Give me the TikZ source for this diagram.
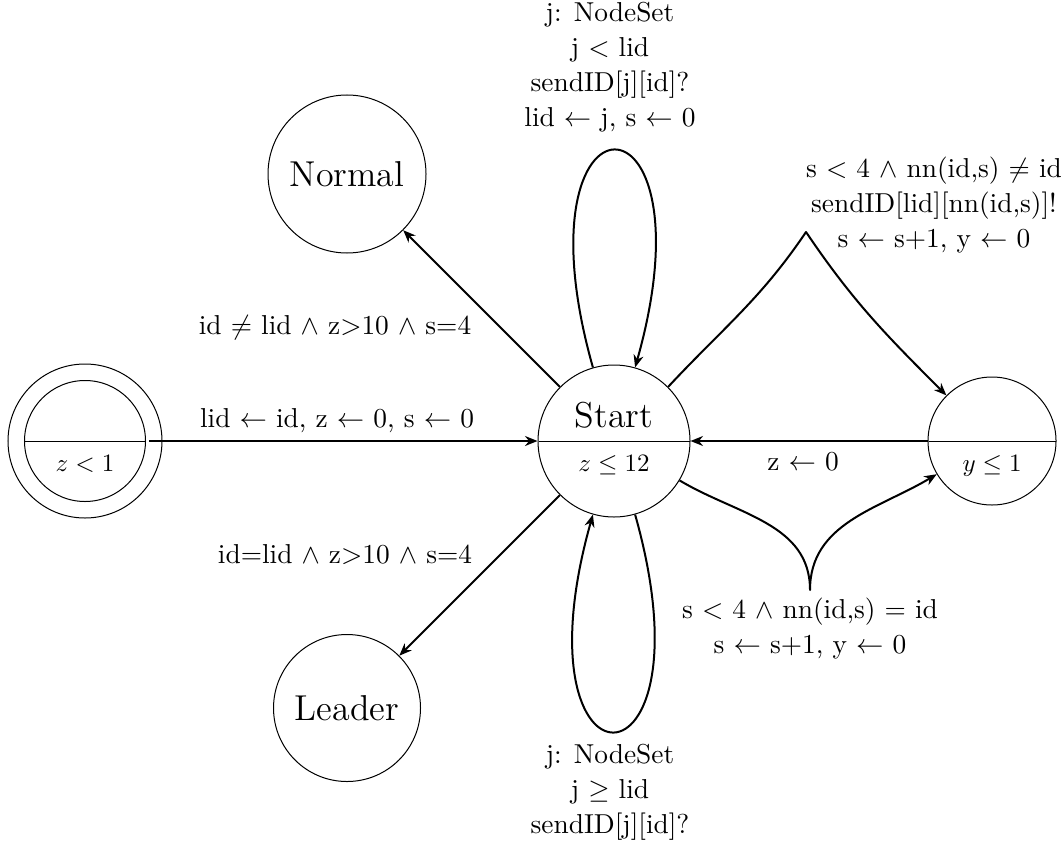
\documentclass[tikz,border=0pt]{standalone}
\usetikzlibrary{shapes.multipart,arrows.meta}
\begin{document}
\begin{tikzpicture}[x=0.4pt,y=-0.4pt,
  state/.style={circle,draw,line width=0.4pt,inner sep=0pt,font=\fontsize{14.4}{18}\selectfont},
  splitstate/.style={circle split,draw,line width=0.4pt,inner sep=2pt,font=\fontsize{10}{12}\selectfont},
  edge/.style={line width=0.8pt,line join=round,-{Stealth[length=5pt,width=4pt]}},
  lbl/.style={align=center,font=\fontsize{10.95}{14}\selectfont,inner sep=0pt}]
\useasboundingbox (0,0) rectangle (1063,845);
% states
\node[splitstate,minimum size=60.8pt] (S) at (614,441) {\fontsize{14.4}{18}\selectfont Start\rule[-3.2pt]{0pt}{0pt}\nodepart{lower}\rule{0pt}{9.8pt}$z\leq 12$};
\node[splitstate,minimum size=48.4pt] (I) at (85,441) {\nodepart{lower}\rule{0pt}{9.8pt}$z<1$};
\draw[line width=0.4pt] (I.center) circle[radius=30.8pt];
\node[splitstate,minimum size=51.2pt] (R) at (992,441) {\nodepart{lower}\rule{0pt}{9.8pt}$y\leq 1$};
\node[state,minimum size=63.2pt] (N) at (347,174) {Normal};
\node[state,minimum size=58.8pt] (L) at (347,708) {Leader};
% edges
\draw[edge,shorten <=1.2pt] (I.east) -- (S.west);
\draw[edge] (R.west) -- (S.east);
\draw[edge] (S) -- (N);
\draw[edge] (S) -- (L);
\coordinate (pk) at (806,232);
\draw[edge] (S.45) to[out=47,in=236] (pk) to[out=-56,in=135] (R.135);
\coordinate (cp) at (810,590);
\draw[edge] (S.-31) to[out=-31,in=90] (cp) to[out=90,in=211] (R.211);
\draw[edge] (S.106) .. controls (511,78) and (717,78) .. (S.74);
\draw[edge] (S.-74) .. controls (717,804) and (511,804) .. (S.-106);
% labels
\node[lbl] (l1) at (337,421) {lid $\leftarrow$ id, z $\leftarrow$ 0, s $\leftarrow$ 0};
\node[lbl] (l2) at (335,328) {id $\neq$ lid $\wedge$ z>10 $\wedge$ s=4};
\node[lbl] (l3) at (345,555) {id=lid $\wedge$ z>10 $\wedge$ s=4};
\node[lbl] (l4) at (803,462) {z $\leftarrow$ 0};
\node[lbl] (l5) at (934,205) {s $<$ 4 $\wedge$ nn(id,s) $\neq$ id\\ sendID[lid][nn(id,s)]!\\ s $\leftarrow$ s+1, y $\leftarrow$ 0};
\node[lbl] (l6) at (810,629) {s $<$ 4 $\wedge$ nn(id,s) = id\\ s $\leftarrow$ s+1, y $\leftarrow$ 0};
\node[lbl] (l7) at (610,67) {j: NodeSet\\ j $<$ lid\\ sendID[j][id]?\\ lid $\leftarrow$ j, s $\leftarrow$ 0};
\node[lbl] (l8) at (610,792) {j: NodeSet\\ j $\geq$ lid\\ sendID[j][id]?};
\end{tikzpicture}
\end{document}
